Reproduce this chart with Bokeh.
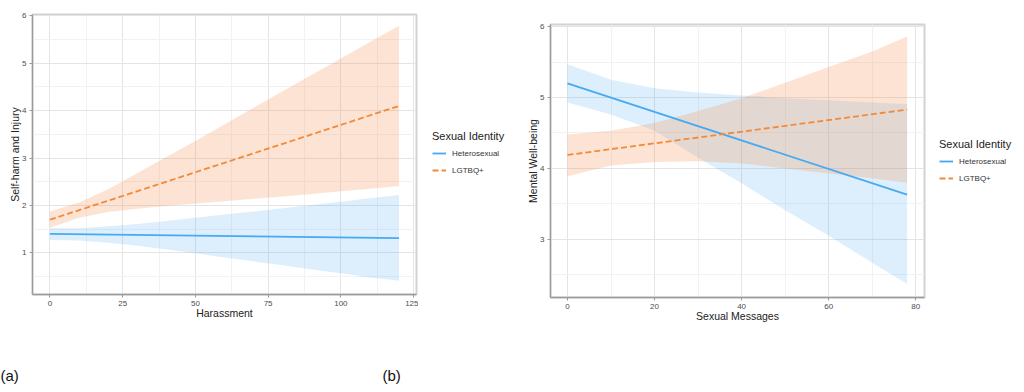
from bokeh.plotting import figure
from bokeh.models import (Range1d, FixedTicker, Legend, LegendItem, Label)
from bokeh.layouts import row, column
from bokeh.embed import file_html
from bokeh.resources import INLINE

# ---------------- data: panel (a) ----------------
harass_x = [0, 10, 20, 30, 40, 50, 60, 70, 80, 90, 100, 110, 120]
harass_ends = [0, 120]
het_line_a = [1.40, 1.31]
het_hi_a = [1.52, 1.52, 1.56, 1.61, 1.67, 1.74, 1.81, 1.87, 1.94, 2.01, 2.08, 2.15, 2.22]
het_lo_a = [1.27, 1.26, 1.21, 1.15, 1.07, 0.99, 0.90, 0.82, 0.74, 0.65, 0.57, 0.48, 0.41]
lgb_line_a = [1.70, 4.10]
lgb_hi_a = [1.87, 2.06, 2.34, 2.68, 3.02, 3.36, 3.71, 4.06, 4.41, 4.76, 5.10, 5.45, 5.79]
lgb_lo_a = [1.53, 1.74, 1.86, 1.93, 1.99, 2.04, 2.09, 2.14, 2.19, 2.24, 2.30, 2.35, 2.41]
xticks_a = [0, 25, 50, 75, 100, 125]
xminor_a = [12.5, 37.5, 62.5, 87.5, 112.5]
yticks_a = [1, 2, 3, 4, 5, 6]
yminor_a = [0.5, 1.5, 2.5, 3.5, 4.5, 5.5]

# ---------------- data: panel (b) ----------------
msg_x = [0, 10, 20, 30, 40, 50, 60, 70, 78]
msg_ends = [0, 78]
het_line_b = [5.20, 3.63]
het_hi_b = [5.47, 5.25, 5.13, 5.07, 5.03, 4.99, 4.96, 4.93, 4.91]
het_lo_b = [4.93, 4.76, 4.53, 4.15, 3.79, 3.41, 3.05, 2.67, 2.37]
lgb_line_b = [4.19, 4.83]
lgb_hi_b = [4.48, 4.53, 4.64, 4.81, 4.99, 5.21, 5.43, 5.65, 5.86]
lgb_lo_b = [3.89, 4.04, 4.09, 4.10, 4.07, 4.00, 3.93, 3.86, 3.80]
xticks_b = [0, 20, 40, 60, 80]
xminor_b = [10, 30, 50, 70]
yticks_b = [3, 4, 5, 6]
yminor_b = [2.5, 3.5, 4.5, 5.5]

groups = ["Heterosexual", "LGTBQ+"]
legend_title = "Sexual Identity"
panel_letters = ["(a)", "(b)"]

BLUE = "#45AAF2"
ORANGE = "#F28A3A"
BLUE_FILL = "#55AEEE"
ORANGE_FILL = "#F7904F"
FONT = "Liberation Sans"
PH = 329  # panel figure height


def make_panel(width, borders, xr, yr, xt, xm, yt, ym, xlab, ylab,
               xs, ends, hl, hh, hlo, ol, oh, olo):
    p = figure(width=width, height=PH, output_backend="svg",
               toolbar_location=None, x_range=Range1d(*xr), y_range=Range1d(*yr),
               min_border_left=borders[0], min_border_right=borders[1],
               min_border_top=borders[2], min_border_bottom=borders[3])
    p.title.visible = False
    p.background_fill_color = "white"
    p.border_fill_color = "white"
    p.outline_line_color = "#d2d2d2"
    p.outline_line_width = 2

    p.xaxis.ticker = FixedTicker(ticks=xt, minor_ticks=xm)
    p.yaxis.ticker = FixedTicker(ticks=yt, minor_ticks=ym)
    p.xaxis.axis_label = xlab
    p.yaxis.axis_label = ylab
    for ax in p.axis:
        ax.major_label_text_font = FONT
        ax.major_label_text_font_size = "8px"
        ax.major_label_text_color = "#4d4d4d"
        ax.axis_label_text_font = FONT
        ax.axis_label_text_font_size = "10.5px"
        ax.axis_label_text_font_style = "normal"
        ax.axis_label_text_color = "#222222"
        ax.axis_line_color = "#9a9a9a"
        ax.axis_line_width = 1.3
        ax.major_tick_line_color = "#9a9a9a"
        ax.major_tick_out = 3
        ax.major_tick_in = 0
        ax.minor_tick_line_color = None
        ax.major_label_standoff = 2
        ax.axis_label_standoff = -2
    for g in (p.xgrid, p.ygrid):
        g.grid_line_color = "#e4e4e4"
        g.grid_line_width = 1
        g.minor_grid_line_color = "#f2f2f2"
        g.minor_grid_line_width = 1

    p.varea(x=xs, y1=hlo, y2=hh, fill_color=BLUE_FILL, fill_alpha=0.2)
    p.varea(x=xs, y1=olo, y2=oh, fill_color=ORANGE_FILL, fill_alpha=0.25)
    p.line(x=ends, y=hl, line_color=BLUE, line_width=1.8)
    p.line(x=ends, y=ol, line_color=ORANGE, line_width=1.8, line_dash="6 3")
    return p


def make_legend_fig(width, top, bottom, loc, ends, hl, ol):
    # separate, axis-less strip that only carries the legend (keys are drawn
    # from the series, which lie outside this strip's ranges)
    f = figure(width=width, height=PH, output_backend="svg", toolbar_location=None,
               x_range=Range1d(-1000, -999), y_range=Range1d(-1000, -999),
               min_border_left=0, min_border_right=0,
               min_border_top=top, min_border_bottom=bottom)
    f.title.visible = False
    f.axis.visible = False
    f.grid.visible = False
    f.outline_line_color = None
    f.background_fill_color = "white"
    f.border_fill_color = "white"
    k1 = f.line(x=ends, y=hl, line_color=BLUE, line_width=1.8)
    k2 = f.line(x=ends, y=ol, line_color=ORANGE, line_width=1.8, line_dash="6 3")
    leg = Legend(items=[LegendItem(label=groups[0], renderers=[k1]),
                        LegendItem(label=groups[1], renderers=[k2])],
                 title=legend_title, location=loc)
    leg.title_text_font = FONT
    leg.title_text_font_size = "11px"
    leg.title_text_font_style = "normal"
    leg.title_text_color = "#222222"
    leg.title_standoff = 4
    leg.label_text_font = FONT
    leg.label_text_font_size = "8px"
    leg.label_text_color = "#333333"
    leg.label_standoff = 6
    leg.glyph_width = 14
    leg.glyph_height = 14
    leg.label_height = 14
    leg.spacing = 3
    leg.padding = 0
    leg.margin = 0
    leg.border_line_color = None
    leg.background_fill_alpha = 0
    f.add_layout(leg, "center")
    return f


pa = make_panel(418, (32, 2, 14, PH - 294), (-6, 126), (0.12, 6.03),
                xticks_a, xminor_a, yticks_a, yminor_a,
                "Harassment", "Self-harm and Injury",
                harass_x, harass_ends, het_line_a, het_hi_a, het_lo_a,
                lgb_line_a, lgb_hi_a, lgb_lo_a)
la = make_legend_fig(102, 14, PH - 294, (14, 117),
                     harass_ends, het_line_a, lgb_line_a)
pb = make_panel(406, (30, 2, 24, PH - 297), (-3.9, 82.0), (2.18, 6.03),
                xticks_b, xminor_b, yticks_b, yminor_b,
                "Sexual Messages", "Mental Well-being",
                msg_x, msg_ends, het_line_b, het_hi_b, het_lo_b,
                lgb_line_b, lgb_hi_b, lgb_lo_b)
lb = make_legend_fig(90, 24, PH - 297, (13, 112),
                     msg_ends, het_line_b, lgb_line_b)

# caption strip with panel letters
pc = figure(width=1016, height=55, output_backend="svg", toolbar_location=None,
            x_range=Range1d(0, 1016), y_range=Range1d(0, 55),
            min_border=0)
pc.title.visible = False
pc.axis.visible = False
pc.grid.visible = False
pc.outline_line_color = None
pc.background_fill_color = "white"
pc.border_fill_color = "white"
for txt, xpos in zip(panel_letters, (0, 382)):
    pc.add_layout(Label(x=xpos, y=9, text=txt, text_font=FONT,
                        text_font_size="15px", text_color="#111111",
                        text_baseline="middle", text_align="left"))

layout = column(row(column(pa), column(la), column(pb), column(lb)), pc)
open("out.html", "w").write(file_html(layout, INLINE))
